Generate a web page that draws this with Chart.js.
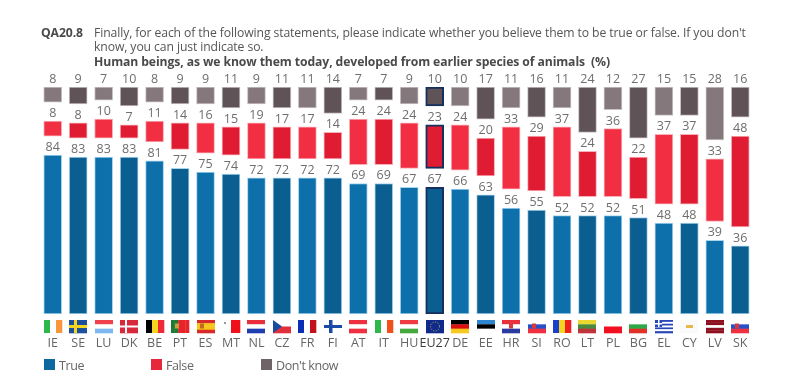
<!DOCTYPE html>
<html>
<head>
<meta charset="utf-8">
<script src="https://cdn.jsdelivr.net/npm/chart.js@4"></script>
<style>
  html, body { margin: 0; padding: 0; background: #fff; }
  #wrap { position: relative; width: 800px; height: 385px; overflow: hidden; font-family: "Open Sans", sans-serif; color: #555; }
  canvas { position: absolute; left: 0; top: 0; }
  .txt { position: absolute; white-space: nowrap; font-size: 12.2px; line-height: 15px; letter-spacing: -0.1px; }
  .b { font-weight: 700; color: #4a4a4a; }
  .leg { position: absolute; top: 358px; font-size: 12.5px; line-height: 15px; letter-spacing: -0.4px; color: #666; white-space: nowrap; }
  .leg i { position: absolute; left: -15px; top: 1px; width: 11px; height: 11px; }
</style>
</head>
<body>
<div id="wrap">
  <canvas id="chart" width="800" height="385"></canvas>
  <div class="txt b" style="left:41px;top:25px">QA20.8</div>
  <div class="txt" style="left:94px;top:25px">Finally, for each of the following statements, please indicate whether you believe them to be true or false. If you don't</div>
  <div class="txt" style="left:94px;top:39px">know, you can just indicate so.</div>
  <div class="txt b" style="left:94px;top:54px">Human beings, as we know them today, developed from earlier species of animals&nbsp; (%)</div>
  <div class="leg" style="left:59px"><i style="background:#0d699f"></i>True</div>
  <div class="leg" style="left:166px"><i style="background:#e5283c"></i>False</div>
  <div class="leg" style="left:276px"><i style="background:#6e6367"></i>Don't know</div>
</div>
<script>
var countries = ["IE","SE","LU","DK","BE","PT","ES","MT","NL","CZ","FR","FI","AT","IT","HU","EU27","DE","EE","HR","SI","RO","LT","PL","BG","EL","CY","LV","SK"];
var trueVals  = [84,83,83,83,81,77,75,74,72,72,72,72,69,69,67,67,66,63,56,55,52,52,52,51,48,48,39,36];
var falseVals = [8,8,10,7,11,14,16,15,19,17,17,14,24,24,24,23,24,20,33,29,37,24,36,22,37,37,33,48];
var dkVals    = [8,9,7,10,8,9,9,11,9,11,11,14,7,7,9,10,10,17,11,16,11,24,12,27,15,15,28,16];

// empty room between the stacked pieces, in value units, for the labels
var GAP = 10;

var flagStripes = {
  IE: ["v", "#2fb84a", "#ffffff", "#f7963a"],
  SE: ["h", "#1c4f9c"],
  LU: ["h", "#f0404c", "#ffffff", "#7fb8f0"],
  DK: ["h", "#d8283c"],
  BE: ["v", "#000000", "#f7d51e", "#ee2a36"],
  PT: ["v", "#1f7a35", "#1f7a35", "#e8232c", "#e8232c", "#e8232c"],
  ES: ["h", "#d92a2a", "#f5c518", "#f5c518", "#d92a2a"],
  MT: ["v", "#ffffff", "#f0101c"],
  NL: ["h", "#e8303c", "#ffffff", "#1f3fb0"],
  CZ: ["h", "#ffffff", "#e0303c"],
  FR: ["v", "#0a2fb5", "#ffffff", "#c4101c"],
  FI: ["h", "#ffffff"],
  AT: ["h", "#ee3040", "#ffffff", "#ee3040"],
  IT: ["v", "#2fb84a", "#ffffff", "#f0501c"],
  HU: ["h", "#ee3a40", "#ffffff", "#45a83c"],
  EU27: ["h", "#0f2a8c"],
  DE: ["h", "#000000", "#dd1010", "#f7c81e"],
  EE: ["h", "#2f86d0", "#000000", "#ffffff"],
  HR: ["h", "#e8303c", "#ffffff", "#2a3aa0"],
  SI: ["h", "#ffffff", "#2a50c8", "#ee3040"],
  RO: ["v", "#1a40d0", "#f7d51e", "#ee2020"],
  LT: ["h", "#e8d830", "#4a8a3c", "#c0343c"],
  PL: ["h", "#ffffff", "#f01020"],
  BG: ["h", "#ffffff", "#2fa84a", "#e03028"],
  EL: ["h", "#2848b8", "#ffffff", "#2848b8", "#ffffff", "#2848b8", "#ffffff", "#2848b8"],
  CY: ["h", "#fafafa"],
  LV: ["h", "#8c1020", "#8c1020", "#ffffff", "#8c1020", "#8c1020"],
  SK: ["h", "#ffffff", "#2a50c8", "#ee3040"]
};

// little extras on top of the stripes
function flagExtra(ctx, code, x, y, w, h) {
  ctx.fillStyle = "#fff";
  if (code === "SE") {
    ctx.fillStyle = "#f5d51e";
    ctx.fillRect(x + 5, y, 3, h); ctx.fillRect(x, y + 5, w, 3);
  } else if (code === "DK") {
    ctx.fillRect(x + 5, y, 2, h); ctx.fillRect(x, y + 5.5, w, 2);
  } else if (code === "FI") {
    ctx.fillStyle = "#1a4aa8";
    ctx.fillRect(x + 5, y, 3.5, h); ctx.fillRect(x, y + 5, w, 3);
  } else if (code === "CZ") {
    ctx.fillStyle = "#1a4aa0";
    ctx.beginPath(); ctx.moveTo(x, y); ctx.lineTo(x + 9, y + h / 2); ctx.lineTo(x, y + h); ctx.fill();
  } else if (code === "EL") {
    ctx.fillStyle = "#2848b8"; ctx.fillRect(x, y, 7, 7);
    ctx.fillStyle = "#fff"; ctx.fillRect(x + 3, y, 1.5, 7); ctx.fillRect(x, y + 3, 7, 1.5);
  } else if (code === "EU27") {
    ctx.strokeStyle = "#c8b840"; ctx.lineWidth = 1; ctx.setLineDash([1, 1.6]);
    ctx.beginPath(); ctx.arc(x + w / 2, y + h / 2, 4.5, 0, Math.PI * 2); ctx.stroke();
    ctx.setLineDash([]);
  } else if (code === "CY") {
    ctx.fillStyle = "#e8b84a"; ctx.fillRect(x + 6, y + 5, 7, 3);
  } else if (code === "HR" || code === "SK" || code === "SI" || code === "PT" || code === "ES") {
    ctx.fillStyle = code === "PT" ? "#c8a040" : code === "ES" ? "#c06a20" : "#d8383c";
    var cx = code === "SK" || code === "SI" || code === "PT" ? x + 6 : code === "ES" ? x + 5 : x + w / 2;
    ctx.fillRect(cx - 2, y + h / 2 - 3, 4, 5);
  } else if (code === "MT") {
    ctx.fillStyle = "#999"; ctx.fillRect(x + 2, y + 2, 2, 2);
  }
}

function alt(i, a, b) { return i % 2 === 0 ? a : b; }
function fillOf(a, b) { return countries.map(function (c, i) { return alt(i, a, b); }); }
function edgeOf(a) { return countries.map(function (c) { return c === "EU27" ? "#14305c" : a; }); }
function edgeW() { return countries.map(function (c) { return c === "EU27" ? 2 : 1; }); }

var plainValues = [trueVals, falseVals, dkVals];

var labelsAndFlags = {
  id: "labelsAndFlags",
  afterDatasetsDraw: function (chart) {
    var ctx = chart.ctx, x = chart.scales.x;
    ctx.save();
    ctx.textAlign = "center";
    ctx.textBaseline = "alphabetic";
    ctx.font = "12.5px 'Open Sans', sans-serif";
    ctx.fillStyle = "#6e6e6e";
    plainValues.forEach(function (vals, d) {
      var meta = chart.getDatasetMeta(d);
      vals.forEach(function (v, i) {
        ctx.fillText(v, meta.data[i].x, meta.data[i].y - 4);
      });
    });
    countries.forEach(function (code, i) {
      var f = flagStripes[code], w = 18, h = 13, fx = Math.round(x.getPixelForValue(i) - 9), fy = 320;
      var n = f.length - 1;
      for (var k = 0; k < n; k++) {
        ctx.fillStyle = f[k + 1];
        if (f[0] === "h") ctx.fillRect(fx, fy + h * k / n, w, h / n + 0.3);
        else ctx.fillRect(fx + w * k / n, fy, w / n + 0.3, h);
      }
      flagExtra(ctx, code, fx, fy, w, h);
    });
    ctx.restore();
  }
};

new Chart(document.getElementById("chart"), {
  type: "bar",
  data: {
    labels: countries,
    datasets: [
      {
        label: "True",
        data: trueVals.map(function (v) { return [0, v]; }),
        backgroundColor: fillOf("#0e70ab", "#0b5f90"),
        borderColor: edgeOf("#a8d4ee"), borderWidth: edgeW()
      },
      {
        label: "False",
        data: falseVals.map(function (v, i) { var s = trueVals[i] + GAP; return [s, s + v]; }),
        backgroundColor: fillOf("#f22f42", "#e01c32"),
        borderColor: edgeOf("#f8b0b8"), borderWidth: edgeW()
      },
      {
        label: "Don't know",
        data: dkVals.map(function (v, i) { var s = trueVals[i] + falseVals[i] + 2 * GAP; return [s, s + v]; }),
        backgroundColor: fillOf("#85787c", "#5f5358"),
        borderColor: edgeOf("#c8c0c2"), borderWidth: edgeW()
      }
    ]
  },
  options: {
    responsive: false,
    animation: false,
    layout: { padding: { left: 40, right: 47, top: 87, bottom: 0 } },
    plugins: { legend: { display: false }, tooltip: { enabled: false } },
    datasets: { bar: { barThickness: 18, grouped: false, borderSkipped: false } },
    scales: {
      x: {
        grid: { display: false },
        border: { display: false },
        afterFit: function (s) { s.height = 71; },
        ticks: {
          autoSkip: false, maxRotation: 0, padding: 14,
          font: { size: 12.5, family: "'Open Sans', sans-serif" },
          color: function (c) { return c.tick.label === "EU27" ? "#3a3a3a" : "#666"; }
        }
      },
      y: { display: false, min: 0, max: 120 }
    }
  },
  plugins: [labelsAndFlags]
});
</script>
</body>
</html>
